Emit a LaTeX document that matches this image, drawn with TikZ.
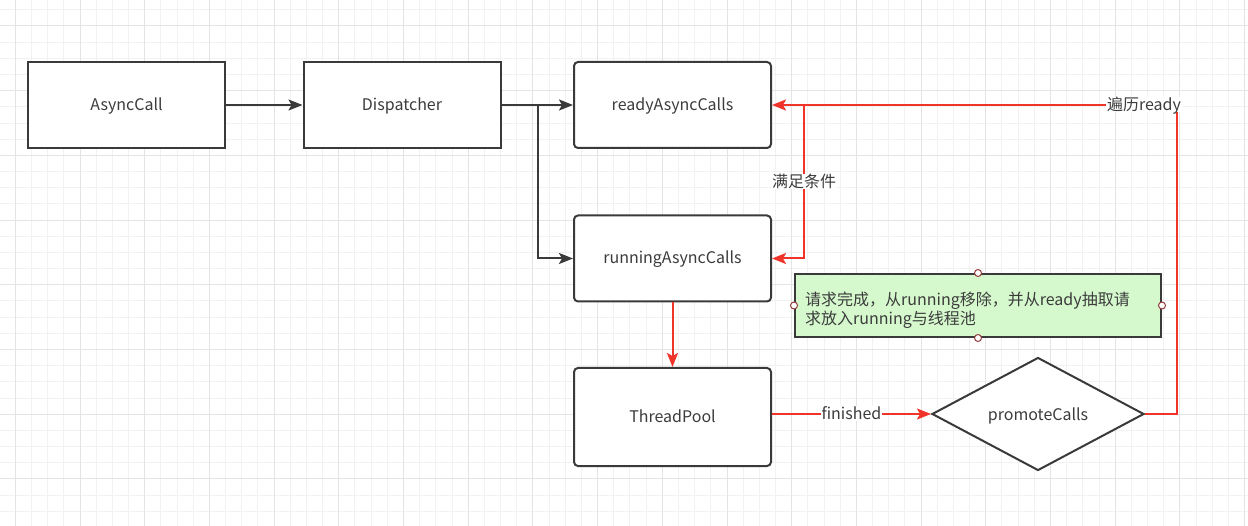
\documentclass[tikz,border=0pt]{standalone}
\usepackage{fontspec}
\setmainfont{Noto Sans CJK SC}
\usetikzlibrary{arrows.meta,shapes.geometric}
\definecolor{gridminor}{RGB}{242,242,242}
\definecolor{gridmajor}{RGB}{228,228,228}
\definecolor{boxline}{RGB}{58,58,58}
\definecolor{txt}{RGB}{60,60,60}
\definecolor{redline}{RGB}{240,52,42}
\definecolor{notefill}{RGB}{213,249,205}
\definecolor{handle}{RGB}{150,60,60}
\tikzset{
  txtfont/.style={text=txt, font=\fontsize{16}{18}\selectfont, text height=12pt, text depth=1pt},
  box/.style={draw=boxline, line width=2pt, fill=white, minimum width=197pt, minimum height=86pt, inner sep=0pt, txtfont},
  rbox/.style={box, rounded corners=4pt},
  blackarrow/.style={draw=boxline, line width=2pt, -{Stealth[length=14pt,width=11pt,inset=3pt]}},
  redarrow/.style={draw=redline, line width=2pt, -{Stealth[length=14pt,width=11pt,inset=3pt]}},
  redline/.style={draw=redline, line width=2pt},
  lbl/.style={fill=white, inner sep=1pt, txtfont},
  handlept/.style={circle, draw=handle, fill=white, line width=1pt, minimum size=7pt, inner sep=0pt},
}
\begin{document}
\begin{tikzpicture}[x=1pt,y=-1pt]
\useasboundingbox (0,0) rectangle (1248,526);
\fill[white] (0,0) rectangle (1248,526);
% grid
\foreach \i in {0,...,78} {
  \draw[gridminor, line width=1pt] ({-0.87+16.175*\i},0) -- ({-0.87+16.175*\i},526);
}
\foreach \i in {0,...,33} {
  \draw[gridminor, line width=1pt] (0,{-6.35+16.175*\i}) -- (1248,{-6.35+16.175*\i});
}
\foreach \i in {0,...,19} {
  \draw[gridmajor, line width=1pt] ({15.3+64.7*\i},0) -- ({15.3+64.7*\i},526);
}
\foreach \i in {0,...,8} {
  \draw[gridmajor, line width=1pt] (0,{26+64.7*\i}) -- (1248,{26+64.7*\i});
}
% nodes
\node[box]  (async)    at (126.5,105) {AsyncCall};
\node[box]  (disp)     at (402,105) {Dispatcher};
\node[rbox] (ready)    at (672.5,105) {readyAsyncCalls};
\node[rbox] (running)  at (672.5,258.5) {runningAsyncCalls};
\node[rbox, minimum height=98pt] (pool) at (672.5,417) {ThreadPool};
\node[diamond, draw=boxline, line width=2pt, fill=white, minimum width=212pt, minimum height=113pt, aspect=1.9, inner sep=0pt] (promote) at (1038,414) {};
\node[txtfont, inner sep=0pt] (promotelbl) at (1038,415) {promoteCalls};
\node[draw=boxline, line width=2pt, fill=notefill, minimum width=366pt, minimum height=63pt, inner sep=0pt] (note) at (978,305.5) {};
\node[anchor=west, align=left, text=txt, font=\fontsize{16}{17}\selectfont, inner sep=0pt] (notetext) at (805,310) {请求完成，从running移除，并从ready抽取请\\求放入running与线程池};
\node[handlept] (h1) at (note.north) {};
\node[handlept] (h2) at (note.south) {};
\node[handlept] (h3) at (note.west) {};
\node[handlept] (h4) at (note.east) {};
% coordinates
\coordinate (split) at (538,105);
\coordinate (splitdown) at (538,258.5);
\coordinate (rsplit) at (804,105);
\coordinate (rsplitdown) at (804,258.5);
\coordinate (rcorner) at (1177,414);
\coordinate (rtop) at (1177,105);
% black connectors
\draw[blackarrow] (async.east) -- (disp.west);
\draw[blackarrow] (disp.east) -- (ready.west);
\draw[blackarrow] (split) -- (splitdown) -- (running.west);
% red connectors
\draw[redarrow] (running.south) -- (pool.north);
\draw[redarrow] (pool.east |- promote.west) -- node[lbl, pos=0.5] (fin) {finished} (promote.west);
\draw[redline] (promote.east) -- (rcorner) -- (rtop);
\draw[redarrow] (rtop) -- (ready.east);
\draw[redarrow] (rsplit) -- node[lbl, pos=0.5] (cond) {满足条件} (rsplitdown) -- (running.east);
\node[lbl] (trav) at (1144,105) {遍历ready};
\end{tikzpicture}
\end{document}
